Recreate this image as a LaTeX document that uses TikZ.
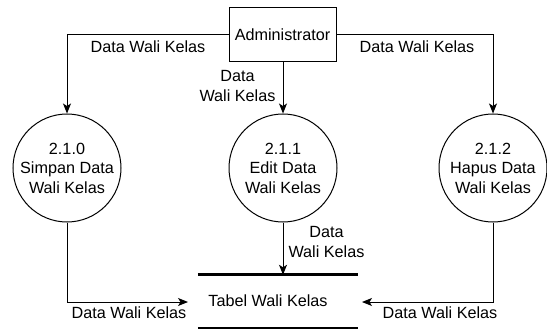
\documentclass[tikz,border=0pt]{standalone}
\usepackage{fontspec}
\setmainfont{Liberation Sans}
\usetikzlibrary{arrows.meta}
\begin{document}
\begin{tikzpicture}[x=1pt,y=-1pt,
  every node/.style={font=\fontsize{16.2}{19.5}\selectfont, inner sep=0pt},
  proc/.style={circle, draw, minimum size=108pt, align=center, line width=1pt},
  entity/.style={draw, minimum width=107pt, minimum height=54pt, line width=1pt},
  flow/.style={-{Stealth[length=10pt,width=8pt,inset=2.5pt]}, line width=1pt},
  lbl/.style={align=center}]
\useasboundingbox (0,0) rectangle (547,329);

% external entity
\node[entity] (adm) at (282.5,35) {Administrator};

% processes
\node[proc] (p0) at (67,168) {2.1.0\\Simpan Data\\Wali Kelas};
\node[proc] (p1) at (283,168) {2.1.1\\Edit Data\\Wali Kelas};
\node[proc] (p2) at (493,168) {2.1.2\\Hapus Data\\Wali Kelas};

% data store
\node[minimum width=160pt, minimum height=53pt] (store) at (278,301.5) {};
\node (storelbl) at (268,301) {Tabel Wali Kelas};
\draw[line width=3pt] (store.north west) -- (store.north east);
\draw[line width=2pt] (store.south west) -- (store.south east);
\coordinate (inL) at (188,302);
\coordinate (inR) at (362,302);
\coordinate (inM) at (store.north -| p1);

% flows from the administrator
\draw[flow] (adm.west) -| (p0.north);
\draw[flow] (adm.east) -| (p2.north);
\draw[flow] (adm.south -| p1) -- (p1.north);

% flows into the data store
\draw[flow] (p0.south) |- (inL);
\draw[flow] (p1.south) -- (inM);
\draw[flow] (p2.south) |- (inR);

% flow labels
\node[lbl] (lTL) at (148,47) {Data Wali Kelas};
\node[lbl] (lTR) at (417,47) {Data Wali Kelas};
\node[lbl] (lTM) at (237.5,86) {Data\\Wali Kelas};
\node[lbl] (lBM) at (326.5,242) {Data\\Wali Kelas};
\node[lbl] (lBL) at (129,313) {Data Wali Kelas};
\node[lbl] (lBR) at (440,313) {Data Wali Kelas};
\end{tikzpicture}
\end{document}
